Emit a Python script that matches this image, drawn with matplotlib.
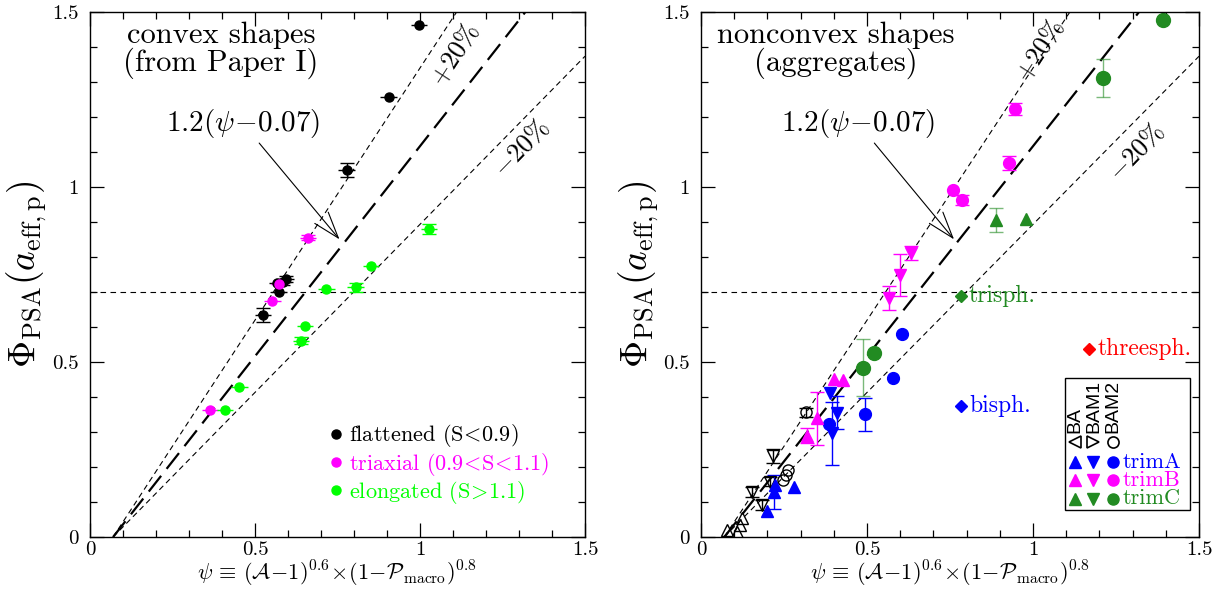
import numpy as np
import matplotlib
matplotlib.use("Agg")
import matplotlib.pyplot as plt
from matplotlib.ticker import MultipleLocator, FuncFormatter
from matplotlib.lines import Line2D
from matplotlib.patches import Rectangle

plt.rcParams['font.family'] = 'serif'
plt.rcParams['font.serif'] = ['cmr10']
plt.rcParams['mathtext.fontset'] = 'cm'
plt.rcParams['axes.unicode_minus'] = False

# fit: 1.2 (psi - 0.07), with +/-20% bands
fit_slope = 1.2
fit_offset = 0.07
band = 0.2
phi_ref = 0.7

# ---- left panel: convex shapes (from Paper I) ----
flat_psi = [0.997, 0.905, 0.778, 0.594, 0.584, 0.568, 0.573, 0.525]
flat_phi = [1.462, 1.256, 1.048, 0.736, 0.729, 0.724, 0.700, 0.634]
flat_err = [np.nan, np.nan, 0.020, 0.008, 0.008, np.nan, np.nan, 0.020]

triax_psi = [0.661, 0.574, 0.553, 0.364]
triax_phi = [0.855, 0.722, 0.674, 0.363]
triax_err = [0.008, np.nan, np.nan, np.nan]

elong_psi = [1.027, 0.852, 0.805, 0.716, 0.651, 0.639, 0.453, 0.409]
elong_phi = [0.880, 0.774, 0.713, 0.708, 0.603, 0.560, 0.429, 0.363]
elong_err = [0.014, np.nan, 0.012, np.nan, np.nan, 0.010, np.nan, np.nan]

convex_psi_err = 0.025

# ---- right panel: nonconvex shapes (aggregates) ----
ba_psi = [0.077, 0.108, 0.117, 0.123]
ba_phi = [0.020, 0.015, 0.034, 0.053]

bam1_psi = [0.216, 0.153, 0.183, 0.208]
bam1_phi = [0.231, 0.129, 0.091, 0.158]
bam1_err = [0.020, 0.015, 0.015, 0.012]

bam2_psi = [0.316, 0.263, 0.256, 0.248]
bam2_phi = [0.356, 0.191, 0.178, 0.163]
bam2_err = [0.012, np.nan, np.nan, np.nan]

trimA_up_psi = [0.223, 0.220, 0.281, 0.200]
trimA_up_phi = [0.149, 0.129, 0.142, 0.075]
trimA_up_err = [np.nan, 0.048, np.nan, np.nan]
trimA_dn_psi = [0.389, 0.409, 0.394]
trimA_dn_phi = [0.412, 0.355, 0.296]
trimA_dn_err = [np.nan, 0.048, 0.090]
trimA_ci_psi = [0.604, 0.579, 0.493, 0.386]
trimA_ci_phi = [0.580, 0.453, 0.350, 0.323]
trimA_ci_err = [np.nan, np.nan, 0.048, np.nan]

trimB_up_psi = [0.399, 0.429, 0.349, 0.318]
trimB_up_phi = [0.451, 0.447, 0.339, 0.289]
trimB_up_err = [np.nan, np.nan, 0.075, 0.022]
trimB_dn_psi = [0.632, 0.599, 0.566]
trimB_dn_phi = [0.810, 0.749, 0.682]
trimB_dn_err = [0.020, 0.060, 0.035]
trimB_ci_psi = [0.946, 0.928, 0.758, 0.785]
trimB_ci_phi = [1.222, 1.067, 0.991, 0.962]
trimB_ci_err = [0.017, 0.020, np.nan, 0.015]

trimC_up_psi = [0.890, 0.979]
trimC_up_phi = [0.906, 0.909]
trimC_up_err = [0.034, np.nan]
trimC_ci_psi = [1.392, 1.210, 0.521, 0.488]
trimC_ci_phi = [1.475, 1.311, 0.526, 0.484]
trimC_ci_err = [np.nan, 0.054, np.nan, 0.082]

sph_names = ['bisph.', 'trisph.', 'threesph.']
sph_psi = [0.782, 0.782, 1.169]
sph_phi = [0.375, 0.688, 0.537]
sph_colors = ['#0000ff', '#228b22', '#ff0000']

BLUE = '#0000ff'
MAG = '#ff00ff'
LIME = '#00ff00'
GREEN = '#228b22'

fig = plt.figure(figsize=(12.31, 6.01), dpi=100)
axL = fig.add_axes([0.0731, 0.1065, 0.4021, 0.874])
axR = fig.add_axes([0.5695, 0.1065, 0.4045, 0.874])


def setup(ax):
    ax.set_xlim(0, 1.5)
    ax.set_ylim(0, 1.5)
    for a in (ax.xaxis, ax.yaxis):
        a.set_major_locator(MultipleLocator(0.5))
        a.set_minor_locator(MultipleLocator(0.1))
        a.set_major_formatter(FuncFormatter(lambda v, _: f"{v:g}"))
    ax.tick_params(which='both', direction='in', top=True, right=True,
                   labelsize=15, width=0.9)
    ax.tick_params(which='major', length=10)
    ax.tick_params(which='minor', length=5)
    ax.tick_params(axis='x', pad=3)
    ax.tick_params(axis='y', pad=8)
    for s in ax.spines.values():
        s.set_linewidth(1.0)
    x = np.array([fit_offset, 1.5])
    y = fit_slope * (x - fit_offset)
    ax.plot(x, y, color='k', lw=1.6, dashes=(9, 4))
    ax.plot(x, (1 + band) * y, color='k', lw=0.8, dashes=(5, 3.5))
    ax.plot(x, (1 - band) * y, color='k', lw=0.8, dashes=(5, 3.5))
    ax.axhline(phi_ref, color='k', lw=0.8, dashes=(5, 4))
    ax.set_xlabel(r'$\psi\,\equiv\,(\mathcal{A}\!-\!1)^{0.6}\!\times\!(1\!-\!\mathcal{P}_{\rm macro})^{0.8}$',
                  fontsize=16, labelpad=0)
    ax.set_ylabel(r'$\Phi_{\rm PSA}(a_{\rm eff,p})$', fontsize=27, labelpad=2)


setup(axL)
setup(axR)

# ---- left panel ----
ax = axL
for psi, phi, err, c in [(flat_psi, flat_phi, flat_err, 'k'),
                         (triax_psi, triax_phi, triax_err, MAG),
                         (elong_psi, elong_phi, elong_err, LIME)]:
    ax.errorbar(psi, phi, xerr=convex_psi_err, fmt='none', ecolor=c, elinewidth=1, capsize=0)
    ax.errorbar(psi, phi, yerr=err, fmt='o', color=c, ms=6.5, elinewidth=1,
                capsize=5, capthick=1)

ax.text(0.397, 1.39, 'convex shapes\n(from Paper I)', ha='center', va='center',
        fontsize=22, linespacing=0.95)
ax.annotate(r'$1.2(\psi\!-\!0.07)$', xy=(0.756, 0.85), xytext=(0.464, 1.18),
            ha='center', va='center', fontsize=21,
            arrowprops=dict(arrowstyle='->,head_length=0.9,head_width=0.3',
                            lw=0.8, color='k', shrinkA=0, shrinkB=0))
ax.text(1.106, 1.38, r'$+20\%$', rotation=57, ha='center', va='center', fontsize=19)
ax.text(1.308, 1.11, r'$-20\%$', rotation=46, ha='center', va='center', fontsize=19)

handles = [Line2D([], [], marker='o', ls='', color=c, ms=6.5) for c in ('k', MAG, LIME)]
labels = [r'flattened $(\mathrm{S}\!<\!0.9)$', r'triaxial $(0.9\!<\!\mathrm{S}\!<\!1.1)$',
          r'elongated $(\mathrm{S}\!>\!1.1)$']
ax.legend(handles, labels, loc='upper left', bbox_to_anchor=(0.476, 0.218),
          frameon=False, fontsize=16, handletextpad=0.15, labelspacing=0.05,
          handlelength=0.9, borderpad=0, borderaxespad=0,
          labelcolor=['k', MAG, LIME])

# ---- right panel ----
ax = axR


def pts(psi, phi, err, marker, color, ms, open_=False, ealpha=1.0):
    kw = dict(mfc='none', mec=color, mew=1.0) if open_ else {}
    ax.errorbar(psi, phi, yerr=err, fmt=marker, color=color, ms=ms,
                elinewidth=1, capsize=5, capthick=1, ecolor=matplotlib.colors.to_rgba(color, ealpha),
                **kw)


pts(ba_psi, ba_phi, None, '^', 'k', 8, open_=True)
pts(bam1_psi, bam1_phi, bam1_err, 'v', 'k', 8, open_=True)
pts(bam2_psi, bam2_phi, bam2_err, 'o', 'k', 8, open_=True)
pts(trimA_up_psi, trimA_up_phi, trimA_up_err, '^', BLUE, 8.5)
pts(trimA_dn_psi, trimA_dn_phi, trimA_dn_err, 'v', BLUE, 8.5)
pts(trimA_ci_psi, trimA_ci_phi, trimA_ci_err, 'o', BLUE, 8.5)
pts(trimB_up_psi, trimB_up_phi, trimB_up_err, '^', MAG, 8.5)
pts(trimB_dn_psi, trimB_dn_phi, trimB_dn_err, 'v', MAG, 8.5)
pts(trimB_ci_psi, trimB_ci_phi, trimB_ci_err, 'o', MAG, 8.5)
pts(trimC_up_psi, trimC_up_phi, trimC_up_err, '^', GREEN, 8.5, ealpha=0.6)
pts(trimC_ci_psi, trimC_ci_phi, trimC_ci_err, 'o', GREEN, 10, ealpha=0.6)

for name, psi, phi, c in zip(sph_names, sph_psi, sph_phi, sph_colors):
    ax.plot(psi, phi, marker='D', ls='', color=c, ms=6)
    ax.text(psi + 0.025, phi, name, color=c, fontsize=17, ha='left', va='center')

ax.text(0.406, 1.39, 'nonconvex shapes\n(aggregates)', ha='center', va='center',
        fontsize=22, linespacing=0.95)
ax.annotate(r'$1.2(\psi\!-\!0.07)$', xy=(0.762, 0.85), xytext=(0.474, 1.18),
            ha='center', va='center', fontsize=21,
            arrowprops=dict(arrowstyle='->,head_length=0.9,head_width=0.3',
                            lw=0.8, color='k', shrinkA=0, shrinkB=0))
ax.text(1.021, 1.39, r'$+20\%$', rotation=57, ha='center', va='center', fontsize=19)
ax.text(1.312, 1.10, r'$-20\%$', rotation=46, ha='center', va='center', fontsize=19)

# custom legend box
T = ax.transAxes
ax.add_patch(Rectangle((0.731, 0.0514), 0.251, 0.2513, transform=T, fc='white',
                       ec='k', lw=1.0, zorder=5))
cols = [0.751, 0.788, 0.828]
rows = [0.143, 0.108, 0.073]
for x, m, name in zip(cols, ['<', '>', 'o'], ['BA', 'BAM1', 'BAM2']):
    ax.plot([x], [0.181], marker=m, ms=8, mfc='none', mec='k', mew=1.2, ls='',
            transform=T, zorder=6, clip_on=False)
    ax.text(x, 0.198, name, rotation=90, ha='center', va='bottom', fontsize=14,
            family='Liberation Sans', transform=T, zorder=6)
for y, c, name in zip(rows, [BLUE, MAG, GREEN], ['trimA', 'trimB', 'trimC']):
    for x, m in zip(cols, ['^', 'v', 'o']):
        ax.plot([x], [y], marker=m, ms=8, color=c, ls='', transform=T, zorder=6,
                clip_on=False)
    ax.text(0.846, y, name, color=c, fontsize=16, ha='left', va='center',
            transform=T, zorder=6)

fig.savefig('out.png', dpi=100)
